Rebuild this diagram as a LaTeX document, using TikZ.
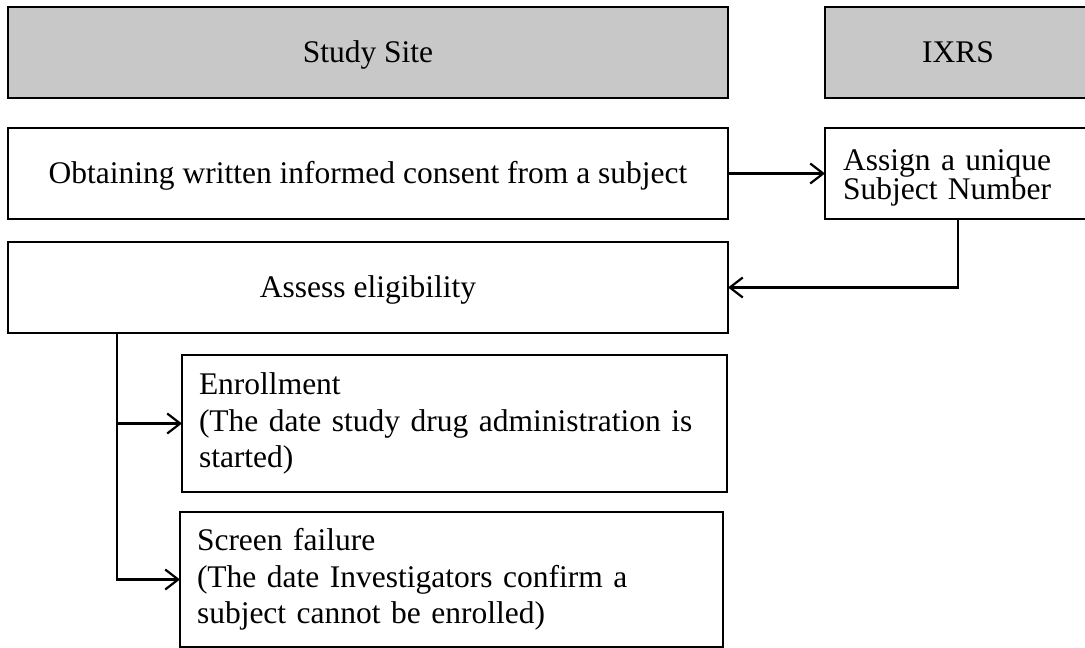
\documentclass[tikz,border=0pt]{standalone}
\usepackage{fontspec}
\setmainfont{Liberation Serif}
\usetikzlibrary{arrows.meta}
\definecolor{headgray}{RGB}{200,200,200}
\begin{document}
\begin{tikzpicture}[x=1pt,y=-1pt,
  box/.style={draw=black,line width=2.2pt,rectangle,inner sep=0pt,outer sep=0pt,
    font=\fontsize{31.5}{36.7}\selectfont,align=center},
  onebox/.style={box,text height=21pt,text depth=1pt},
  head/.style={onebox,fill=headgray},
  leftbox/.style={box,align=left,inner xsep=17pt},
  conn/.style={draw=black,line width=2.2pt},
  arr/.style={conn,-{Straight Barb[length=13pt,width=20pt,line width=2.2pt]}}]
\useasboundingbox (0,0) rectangle (1085,648);
\fill[white] (0,0) rectangle (1085,648);
% headers
\node[head,minimum width=720pt,minimum height=91pt] (site) at (368,52.5) {Study Site};
\node[head,minimum width=266pt,minimum height=91pt] (ixrs) at (958,52.5) {IXRS};
% process boxes
\node[onebox,minimum width=720pt,minimum height=91pt] (obt) at (368,173.5)
  {Obtaining written informed consent from a subject};
\node[leftbox,inner xsep=18pt,text width=230pt,minimum width=266pt,minimum height=91pt,
  font=\fontsize{31.5}{29}\selectfont] (assign) at (958,173.5)
  {\rule{0pt}{30pt}Assign a unique\\Subject Number};
\node[onebox,minimum width=720pt,minimum height=91pt] (assess) at (368,287.5)
  {Assess eligibility};
\node[leftbox,text width=511pt,minimum width=545pt,minimum height=137pt] (enr) at (454.5,423.5)
  {Enrollment\\(The date study drug administration is\\started)};
\node[leftbox,text width=509pt,minimum width=543pt,minimum height=135pt] (scr) at (451.5,579.5)
  {Screen failure\\(The date Investigators confirm a\\subject cannot be enrolled)};
% connectors
\coordinate (br) at ([xshift=109pt]assess.south west);
\draw[arr] (obt.east) -- (assign.west);
\draw[arr] (assign.south) |- (assess.east);
\draw[arr] (br) |- (enr.west);
\draw[arr] (br) |- (scr.west);
\end{tikzpicture}
\end{document}
